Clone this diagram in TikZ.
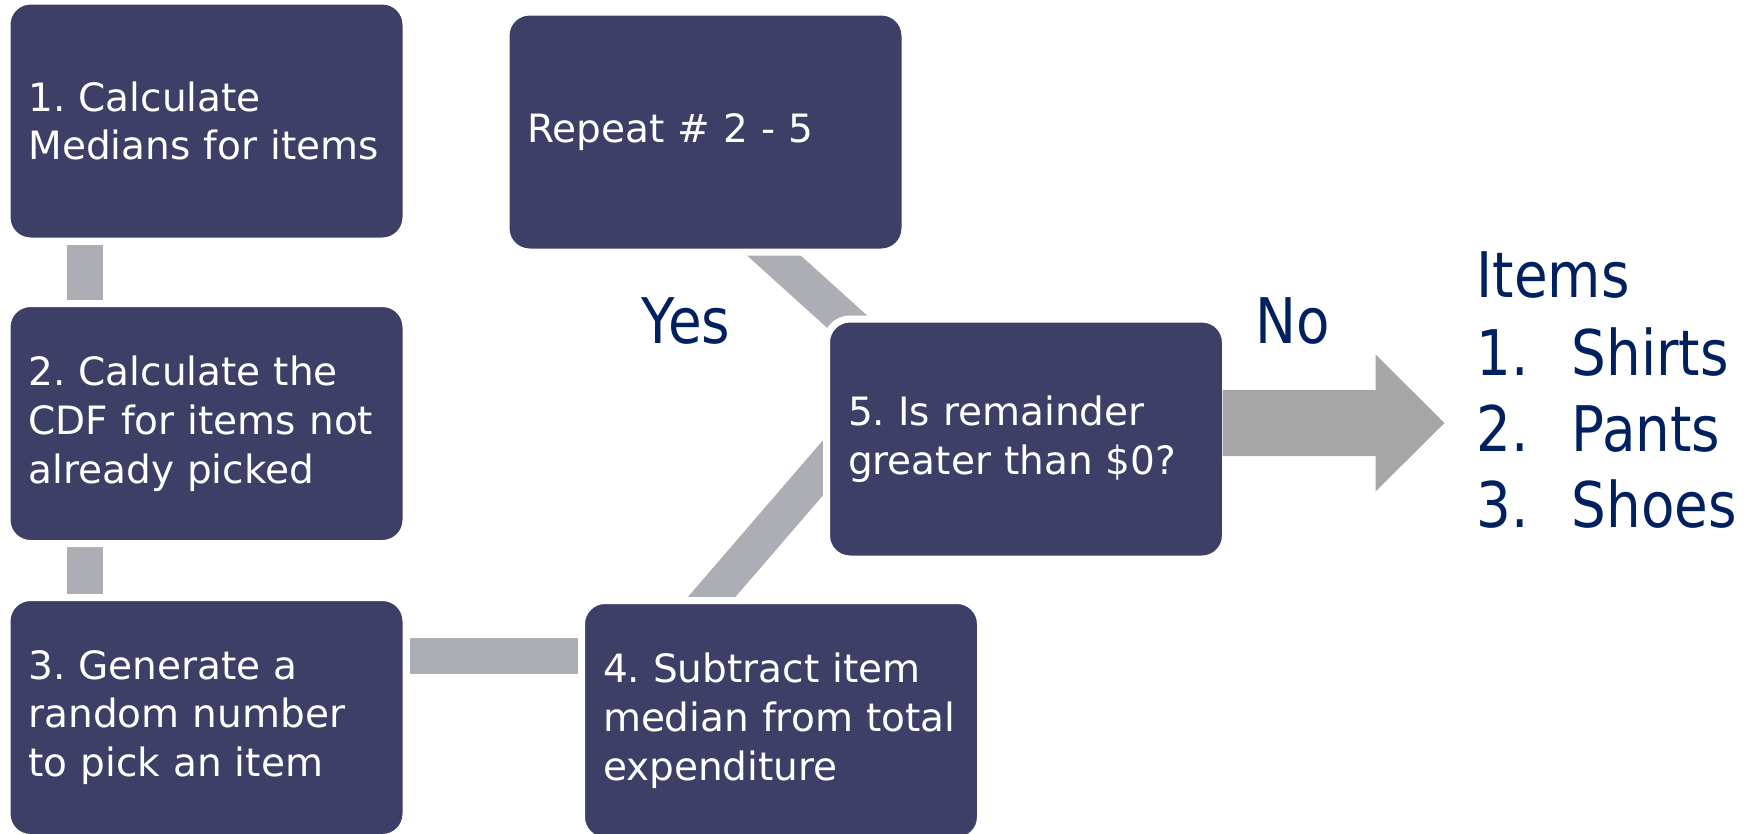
\documentclass[tikz,border=0pt]{standalone}
\usepackage{fontspec}
\setmainfont{DejaVu Sans}
\newfontfamily\labelfont{DejaVu Sans}[FakeStretch=0.87]
\usepackage{xcolor}
\usepackage{tikz}
\usetikzlibrary{backgrounds}
\definecolor{boxfill}{RGB}{62,63,102}
\definecolor{linkgray}{RGB}{173,174,181}
\definecolor{arrowgray}{RGB}{166,166,166}
\definecolor{labelblue}{RGB}{0,32,96}
\frenchspacing
\tikzset{
  stepbox/.style={
    rectangle,
    rounded corners = 0.235cm,
    fill = boxfill,
    draw = white,
    line width = 0.07cm,
    minimum width = 3.99cm,
    minimum height = 2.40cm,
    inner xsep = 0.215cm,
    inner ysep = 0pt,
    text width = 3.56cm,
    align = left,
    text = white,
    font = \fontsize{11.1}{13.9}\selectfont
  },
  link/.style={
    linkgray,
    line width = 0.36cm
  },
  answer/.style={
    text = labelblue,
    inner sep = 0pt,
    font = {\labelfont\fontsize{17.9}{21.6}\selectfont}
  }
}

\begin{document}
\begin{tikzpicture}
\useasboundingbox (0,0) rectangle (17.52,-8.33);
\newcommand\XLeft{2.065}
\newcommand\YMid{-4.39}
\node[stepbox] (b1)  at (\XLeft,-1.21) {1. Calculate\\Medians for items};
\node[stepbox] (b2)  at (\XLeft,-4.235) {2. Calculate the\\CDF for items not\\already picked};
\node[stepbox] (b3)  at (\XLeft,-7.175) {3. Generate a\\random number\\to pick an item};
\node[stepbox] (b4)  at (7.81,-7.205) {4. Subtract item\\median from total\\expenditure};
\node[stepbox] (b5)  at (10.26,\YMid) {5. Is remainder\\greater than \$0?};
\node[stepbox] (rep) at (7.055,-1.32) {Repeat \# 2 - 5};

\node[answer] (yes) at (6.86,-3.21) {Yes};
\node[answer] (no)  at (12.93,-3.21) {No};
\node[answer, anchor=base west] (items) at (14.76,-2.97)
  {\begin{tabular}[t]{@{}p{0.95cm}@{}l@{}}
   \multicolumn{2}{@{}l@{}}{Items}\\[0.03cm]
   1. & Shirts\\
   2. & Pants\\
   3. & Shoes
   \end{tabular}};

\begin{scope}[on background layer]
\draw[link] ([xshift=0.815cm]b1.south west) -- ([xshift=0.815cm]b2.north west);
\draw[link] ([xshift=0.815cm]b2.south west) -- ([xshift=0.815cm]b3.north west);
\draw[link] ([yshift=-0.615cm]b3.north east) -- ([yshift=-0.585cm]b4.north west);
\draw[link] ([shift={(1.125cm,-0.245cm)}]b4.north west) -- ([shift={(0.235cm,-1.25cm)}]b5.north west);
\draw[link] ([shift={(2.465cm,0.225cm)}]rep.south west) -- ([shift={(0.40cm,-0.205cm)}]b5.north west);
\end{scope}

% the "No" exit
\coordinate (noS) at ([shift={(-0.065cm,0.16cm)}]b5.east);
\fill[arrowgray] ([yshift=0.33cm]noS) -- ++(1.53,0) -- ++(0,0.355) -- ++(0.69,-0.685)
  -- ++(-0.69,-0.685) -- ++(0,0.355) -- ++(-1.53,0) -- cycle;
\end{tikzpicture}
\end{document}
